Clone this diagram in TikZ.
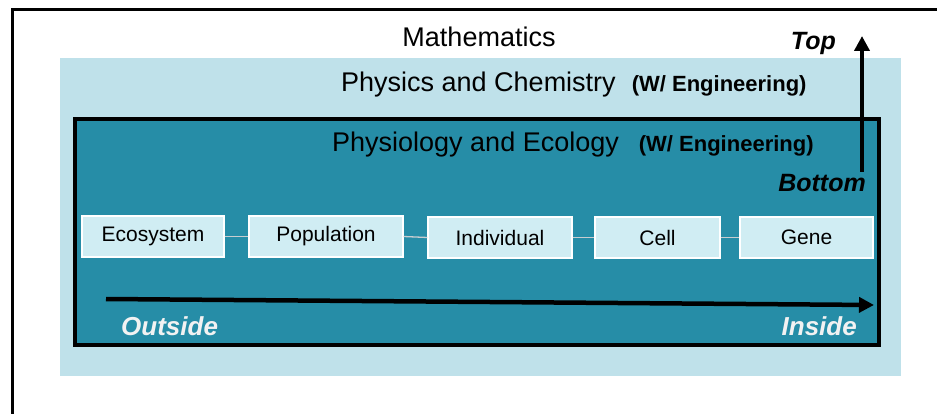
\documentclass[tikz,border=0pt]{standalone}
\usepackage{fontspec}
\setmainfont{Liberation Sans}
\usetikzlibrary{arrows.meta}
\definecolor{lightblue}{HTML}{BFE1EA}
\definecolor{teal}{HTML}{268DA7}
\definecolor{boxfill}{HTML}{D0EDF3}
\definecolor{linkgray}{HTML}{C8CDD0}
\tikzset{
  levelbox/.style={draw=white, line width=1.2pt, fill=boxfill, minimum height=41pt, inner sep=0pt,
    font=\fontsize{21}{25}\selectfont, text=black},
  link/.style={draw=linkgray, line width=1.3pt},
  bigtext/.style={font=\fontsize{27}{32}\selectfont, inner sep=0pt},
  dirlabel/.style={font=\fontsize{25}{30}\selectfont\bfseries\itshape, inner sep=0pt},
  sidelabel/.style={font=\fontsize{26}{30}\selectfont\bfseries\itshape, text=white!95!black, inner sep=0pt},
  bigarrow/.style={line width=4.5pt, -{Triangle[width=15pt,length=15pt]}},
}
\newcommand{\engtext}{{\fontsize{22}{26}\selectfont\bfseries (W/ Engineering)}}
\begin{document}
\begin{tikzpicture}[x=1pt,y=-1pt]
\useasboundingbox (0,0) rectangle (937,414);
% outer frame
\draw[line width=3pt] (12,430) -- (12,10) -- (940,10);
% light blue region
\fill[lightblue] (60,58) rectangle (901,376);
% teal region
\draw[line width=4pt, fill=teal] (75,119) rectangle (879,345);
% titles
\node[bigtext] (math) at (479,37) {Mathematics};
\node[bigtext, anchor=base west] (phys) at (341,92) {Physics and Chemistry\hspace{16pt}\engtext};
\node[bigtext, anchor=base west] (physio) at (332,152) {Physiology and Ecology\hspace{20pt}\engtext};
% level boxes
\node[levelbox, minimum width=142pt] (eco) at (153,236.5) {Ecosystem};
\node[levelbox, minimum width=154pt] (pop) at (326,236.5) {Population};
\node[levelbox, minimum width=144pt] (ind) at (500,237.5) {Individual};
\node[levelbox, minimum width=125pt] (cell) at (657.5,237.5) {Cell};
\node[levelbox, minimum width=133pt] (gene) at (806.5,237.5) {Gene};
\draw[link] (eco.east) -- (pop.west);
\draw[link] (pop.east) -- (ind.west);
\draw[link] (ind.east) -- (cell.west);
\draw[link] (cell.east) -- (gene.west);
% outside -> inside arrow
\coordinate (outstart) at (106,299);
\coordinate (inend) at (874,305);
\draw[bigarrow] (outstart) -- (inend);
\node[sidelabel, anchor=base west] (outside) at (121,335) {Outside};
\node[sidelabel, anchor=base east] (inside) at (857,335) {Inside};
% bottom -> top arrow
\coordinate (botstart) at (862,172);
\coordinate (topend) at (862,36);
\draw[bigarrow, line width=4pt] (botstart) -- (topend);
\node[dirlabel, anchor=base east] (top) at (836,50) {Top};
\node[dirlabel, anchor=base east] (bottom) at (866,192) {Bottom};
\end{tikzpicture}
\end{document}
